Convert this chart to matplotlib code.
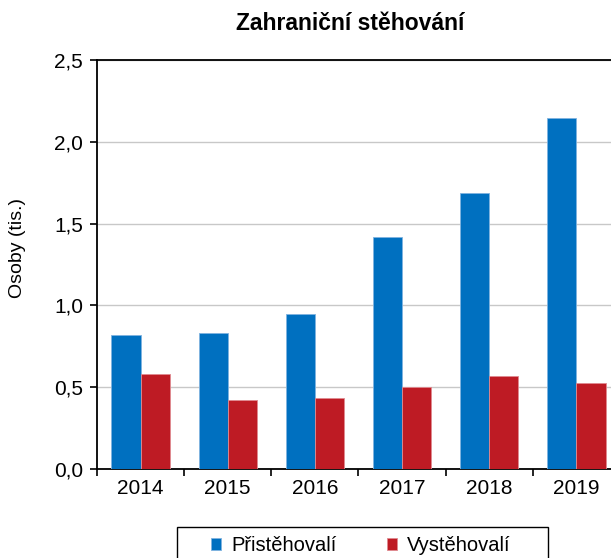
import matplotlib.pyplot as plt
from matplotlib.patches import Rectangle
import numpy as np

plt.rcParams['font.family'] = ['Liberation Sans', 'DejaVu Sans']

years = ['2014', '2015', '2016', '2017', '2018', '2019']
immigrants = [0.82, 0.83, 0.95, 1.42, 1.69, 2.145]
emigrants = [0.58, 0.42, 0.435, 0.50, 0.57, 0.525]

W, H = 611, 558
fig = plt.figure(figsize=(W / 100, H / 100), dpi=100)
ax = fig.add_axes([97 / W, 1 - 469 / H, 523 / W, (469 - 60) / H])

x = np.arange(len(years))
w = 0.335
ax.bar(x - w / 2, immigrants, w, color='#0070C0', edgecolor='#7fb3e0', linewidth=0.6,
       label='Přistěhovalí', zorder=3)
ax.bar(x + w / 2, emigrants, w, color='#BE1B24', edgecolor='#e08a90', linewidth=0.6,
       label='Vystěhovalí', zorder=3)

ax.set_xlim(-0.5, 5.5)
ax.set_ylim(0, 2.5)
ax.set_yticks(np.arange(0, 2.51, 0.5))
ax.set_yticklabels([f'{v:.1f}'.replace('.', ',') for v in np.arange(0, 2.51, 0.5)])
ax.set_xticks(x)
ax.set_xticklabels(years)
ax.set_xticks(np.arange(-0.5, 6, 1), minor=True)
ax.tick_params(axis='x', which='major', length=0, labelsize=15, pad=7)
ax.tick_params(axis='x', which='minor', length=5, width=1.2, direction='out')
ax.tick_params(axis='y', length=5, width=1.2, labelsize=15, pad=5)

ax.yaxis.grid(True, color='#c8c8c8', linewidth=1, zorder=0)
for s in ['left', 'bottom', 'top']:
    ax.spines[s].set_linewidth(1.3)
ax.spines['right'].set_visible(False)

fig.text(18 / W, 1 - 248 / H, 'Osoby (tis.)', rotation=90, ha='center', va='center',
         fontsize=14)
fig.text(0.573, 0.958, 'Zahraniční stěhování', ha='center', va='center',
         fontsize=16.5, fontweight='bold')

# legend frame (runs off the bottom edge like in the original)
fig.patches.append(Rectangle((177 / W, -0.05), (548 - 177) / W, (558 - 527) / H + 0.05,
                             transform=fig.transFigure, fill=False,
                             edgecolor='black', linewidth=1.0))
fig.legend(loc='upper left', bbox_to_anchor=(211 / W, 1 - 536 / H), ncol=2,
           fontsize=14.5, frameon=False, handlelength=0.5, handleheight=0.5,
           handletextpad=0.5, columnspacing=2.5, borderpad=0, borderaxespad=0)

fig.savefig('out.png', dpi=100)
